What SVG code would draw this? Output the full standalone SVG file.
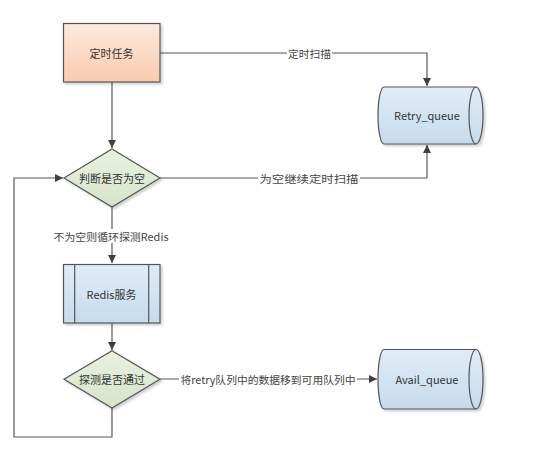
<svg xmlns="http://www.w3.org/2000/svg" width="552" height="462" viewBox="0 0 552 462">
<defs>
<style>
.ln{fill:none;stroke:#595959;stroke-width:1.2}
.shp{stroke:#555;stroke-width:1.2}
.t{font-family:"Noto Sans CJK SC","Liberation Sans",sans-serif;font-size:11px;fill:#333;text-anchor:middle;dominant-baseline:central}
.lb{font-family:"Noto Sans CJK SC","Liberation Sans",sans-serif;font-size:10.5px;fill:#444;text-anchor:middle;dominant-baseline:central}
.bg{fill:#fff}
</style>
<linearGradient id="gPeach" x1="0" y1="0" x2="0" y2="1"><stop offset="0" stop-color="#fde9dc"/><stop offset="1" stop-color="#f9cbae"/></linearGradient>
<linearGradient id="gGreen" x1="0" y1="0" x2="0" y2="1"><stop offset="0" stop-color="#e9f0e1"/><stop offset="1" stop-color="#d7e4c9"/></linearGradient>
<linearGradient id="gBlue" x1="0" y1="0" x2="0" y2="1"><stop offset="0" stop-color="#e1ecf6"/><stop offset="1" stop-color="#c5dbee"/></linearGradient>
<filter id="sh" x="-10%" y="-10%" width="130%" height="130%"><feDropShadow dx="2" dy="2" stdDeviation="1" flood-color="#000" flood-opacity="0.18"/></filter>
<marker id="ar" viewBox="0 0 10 10" refX="10" refY="5" markerWidth="8" markerHeight="8" markerUnits="userSpaceOnUse" orient="auto"><path d="M0,0 L10,5 L0,10 Z" fill="#404040"/></marker>
</defs>
<rect width="552" height="462" fill="#fff"/>
<g id="connectors">
<path class="ln" d="M160,53 H427 V86" marker-end="url(#ar)"/>
<path class="ln" d="M160,178 H427 V145" marker-end="url(#ar)"/>
<path class="ln" d="M112,82 V148" marker-end="url(#ar)"/>
<path class="ln" d="M112,207 V263" marker-end="url(#ar)"/>
<path class="ln" d="M112,323 V350" marker-end="url(#ar)"/>
<path class="ln" d="M112,408 V437 H14 V178 H63" marker-end="url(#ar)"/>
<path class="ln" d="M160,379 H377" marker-end="url(#ar)"/>
<rect class="bg" x="287" y="46" width="45" height="14"/>
<text class="lb" x="309.5" y="53" textLength="43" lengthAdjust="spacingAndGlyphs">定时扫描</text>
<rect class="bg" x="258" y="171" width="102" height="14"/>
<text class="lb" x="309" y="178" textLength="99" lengthAdjust="spacingAndGlyphs">为空继续定时扫描</text>
<rect class="bg" x="52" y="229" width="118" height="14"/>
<text class="lb" x="111" y="236" textLength="115" lengthAdjust="spacingAndGlyphs">不为空则循环探测Redis</text>
<rect class="bg" x="179" y="372" width="178" height="14"/>
<text class="lb" x="268" y="379" textLength="175" lengthAdjust="spacingAndGlyphs">将retry队列中的数据移到可用队列中</text>
</g>
<g id="node-task">
<rect class="shp" x="63.5" y="23.5" width="96.5" height="58.5" fill="url(#gPeach)" filter="url(#sh)"/>
<text class="t" x="111.5" y="53">定时任务</text>
</g>
<g id="node-judge-empty">
<path class="shp" d="M112,149 L160,178 L112,207 L64,178 Z" fill="url(#gGreen)" filter="url(#sh)"/>
<text class="t" x="112" y="178">判断是否为空</text>
</g>
<g id="node-redis">
<rect class="shp" x="63.5" y="264.5" width="96.5" height="58.5" fill="url(#gBlue)" filter="url(#sh)"/>
<line class="shp" x1="74.7" y1="264.5" x2="74.7" y2="323"/>
<line class="shp" x1="148.7" y1="264.5" x2="148.7" y2="323"/>
<text class="t" x="111.5" y="294">Redis服务</text>
</g>
<g id="node-probe">
<path class="shp" d="M112,350.7 L160,379.3 L112,408 L64,379.3 Z" fill="url(#gGreen)" filter="url(#sh)"/>
<text class="t" x="112" y="379.3">探测是否通过</text>
</g>
<g id="node-retry-queue">
<path class="shp" d="M384,87 H476 A7,28.5 0 0 1 476,144 H384 A6,28.5 0 0 1 384,87 Z" fill="url(#gBlue)" filter="url(#sh)"/>
<path class="shp" fill="none" d="M476,87 A7,28.5 0 0 0 476,144"/>
<text class="t" x="427" y="115">Retry_queue</text>
</g>
<g id="node-avail-queue">
<path class="shp" d="M384,349.5 H476 A7,29.75 0 0 1 476,409 H384 A6,29.75 0 0 1 384,349.5 Z" fill="url(#gBlue)" filter="url(#sh)"/>
<path class="shp" fill="none" d="M476,349.5 A7,29.75 0 0 0 476,409"/>
<text class="t" x="427" y="379.3">Avail_queue</text>
</g>
</svg>
